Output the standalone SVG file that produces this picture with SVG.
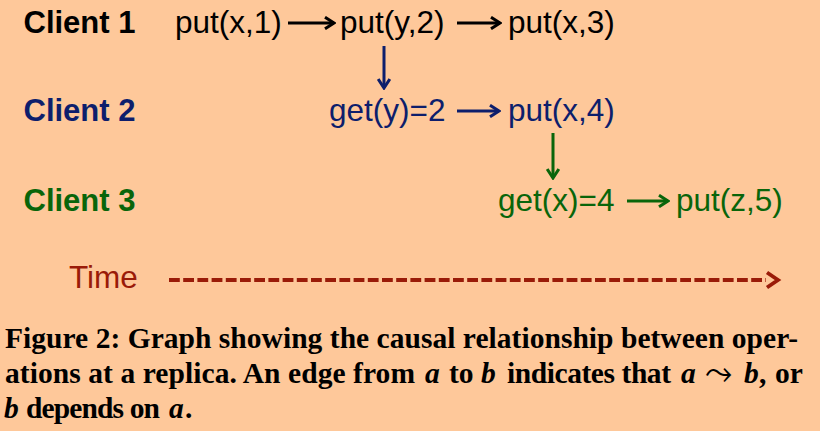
<svg xmlns="http://www.w3.org/2000/svg" width="820" height="431" viewBox="0 0 820 431">
<style>
.lbl{font-family:"Liberation Sans",Arial,sans-serif;font-size:31px;font-weight:bold}
.op{font-family:"Liberation Sans",Arial,sans-serif;font-size:31.5px}
.cap{font-family:"Liberation Serif","Times New Roman",serif;font-size:29.5px;font-weight:bold;fill:#000}
.it{font-style:italic}
.sym{font-family:"DejaVu Sans","Noto Sans",sans-serif;font-weight:normal;font-size:34px;fill:#000}
.c1{fill:#000}
.c2{fill:#0d1e6c}
.c3{fill:#09650a}
.ct{fill:#9a1b08}
.arr{fill:none;stroke-width:3;stroke-linecap:butt;stroke-linejoin:miter}
</style>
<defs>
<marker id="hk" viewBox="0 0 12 14" refX="10.5" refY="7" markerWidth="12" markerHeight="14" markerUnits="userSpaceOnUse" orient="auto">
<path d="M1.5,1.2 L10.5,7 L1.5,12.8" fill="none" stroke="#000" stroke-width="3"/>
</marker>
<marker id="hn" viewBox="0 0 12 14" refX="10.5" refY="7" markerWidth="12" markerHeight="14" markerUnits="userSpaceOnUse" orient="auto">
<path d="M1.5,1.2 L10.5,7 L1.5,12.8" fill="none" stroke="#0d1e6c" stroke-width="3"/>
</marker>
<marker id="hg" viewBox="0 0 12 14" refX="10.5" refY="7" markerWidth="12" markerHeight="14" markerUnits="userSpaceOnUse" orient="auto">
<path d="M1.5,1.2 L10.5,7 L1.5,12.8" fill="none" stroke="#09650a" stroke-width="3"/>
</marker>
</defs>
<rect width="820" height="431" fill="#fec89a"/>

<g id="client1"><text class="lbl c1" x="23.5" y="33">Client 1</text></g>
<g id="client2"><text class="lbl c2" x="23.5" y="121">Client 2</text></g>
<g id="client3"><text class="lbl c3" x="23.5" y="211">Client 3</text></g>

<g id="put_x1"><text class="op c1" x="175" y="33">put(x,1)</text></g>
<g id="put_y2"><text class="op c1" x="340" y="33">put(y,2)</text></g>
<g id="put_x3"><text class="op c1" x="508" y="33">put(x,3)</text></g>
<g id="get_y2"><text class="op c2" x="329" y="121">get(y)=2</text></g>
<g id="put_x4"><text class="op c2" x="508" y="121">put(x,4)</text></g>
<g id="get_x4"><text class="op c3" x="498" y="211">get(x)=4</text></g>
<g id="put_z5"><text class="op c3" x="676" y="211">put(z,5)</text></g>

<g id="time"><text class="op ct" x="69" y="288">Time</text></g>

<g id="connectors">
<line class="arr" x1="288" y1="23" x2="334" y2="23" stroke="#000" marker-end="url(#hk)"/>
<line class="arr" x1="457" y1="23" x2="500" y2="23" stroke="#000" marker-end="url(#hk)"/>
<line class="arr" x1="384" y1="46" x2="384" y2="88" stroke="#0d1e6c" marker-end="url(#hn)"/>
<line class="arr" x1="457" y1="111" x2="499" y2="111" stroke="#0d1e6c" marker-end="url(#hn)"/>
<line class="arr" x1="553" y1="133" x2="553" y2="178" stroke="#09650a" marker-end="url(#hg)"/>
<line class="arr" x1="627" y1="201" x2="668" y2="201" stroke="#09650a" marker-end="url(#hg)"/>
<line x1="169" y1="280" x2="766" y2="280" stroke="#9a1b08" stroke-width="3.8" stroke-dasharray="10.8 3.4" fill="none"/>
<path d="M767,272.5 L778,280 L767,287.5" fill="none" stroke="#9a1b08" stroke-width="3.8"/>
</g>

<g id="caption">
<text class="cap" x="5" y="348" textLength="793" lengthAdjust="spacing">Figure 2: Graph showing the causal relationship between oper-</text>
<text class="cap" x="5" y="383" textLength="410" lengthAdjust="spacing">ations at a replica. An edge from</text>
<text class="cap it" x="425" y="383">a</text>
<text class="cap" x="449" y="383">to</text>
<text class="cap it" x="481" y="383">b</text>
<text class="cap" x="507" y="383" textLength="164" lengthAdjust="spacing">indicates that</text>
<text class="cap it" x="681" y="383">a</text>
<text class="sym" x="705" y="384">⤳</text>
<text class="cap it" x="744" y="383">b</text>
<text class="cap" x="759" y="383">,</text>
<text class="cap" x="775" y="383">or</text>
<text class="cap it" x="4" y="418">b</text>
<text class="cap" x="26" y="418" textLength="134" lengthAdjust="spacing">depends on</text>
<text class="cap it" x="169" y="418">a</text>
<text class="cap" x="185" y="418">.</text>
</g>
</svg>
